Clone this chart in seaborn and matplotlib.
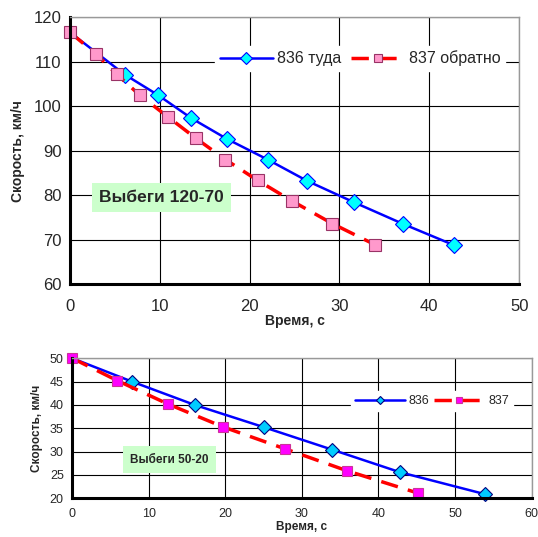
import numpy as np
import pandas as pd
import matplotlib
matplotlib.use("Agg")
import matplotlib.pyplot as plt
import seaborn as sns

# Выбеги 120-70
t836_top = [0, 6.1, 9.8, 13.5, 17.5, 22.0, 26.4, 31.6, 37.1, 42.8]
v836_top = [116.6, 107.1, 102.5, 97.3, 92.6, 88.0, 83.2, 78.4, 73.5, 68.7]
t837_top = [0, 2.85, 5.2, 7.75, 10.9, 14.0, 17.3, 20.9, 24.7, 29.2, 34.0]
v837_top = [116.6, 111.8, 107.2, 102.5, 97.6, 92.8, 88.0, 83.3, 78.7, 73.6, 68.8]

# Выбеги 50-20
t836_bot = [0, 7.8, 16.0, 25.1, 34.0, 42.8, 53.9]
v836_bot = [50, 45.0, 40.0, 35.2, 30.4, 25.6, 20.9]
t837_bot = [0, 5.9, 12.5, 19.7, 27.8, 35.9, 45.2]
v837_bot = [50, 45.2, 40.2, 35.3, 30.6, 25.9, 21.1]

sns.set_style("white")
plt.rcParams["font.family"] = ["Liberation Sans", "DejaVu Sans"]

fig = plt.figure(figsize=(5.38, 5.37), dpi=100)
ax1 = fig.add_axes([0.130, 0.471, 0.835, 0.497])
ax2 = fig.add_axes([0.134, 0.072, 0.854, 0.261])


def style_axes(ax, xlim, ylim, xstep, ystep, fs, xpad):
    ax.set_xlim(*xlim)
    ax.set_ylim(*ylim)
    ax.set_xticks(np.arange(xlim[0], xlim[1] + 0.1, xstep))
    ax.set_yticks(np.arange(ylim[0], ylim[1] + 0.1, ystep))
    ax.grid(True, color="black", linewidth=0.8)
    ax.set_axisbelow(True)
    for s in ["top", "right"]:
        ax.spines[s].set_color("#999999")
        ax.spines[s].set_linewidth(1)
    for s in ["left", "bottom"]:
        ax.spines[s].set_color("black")
        ax.spines[s].set_linewidth(2.2)
    ax.tick_params(axis="y", labelsize=fs, length=0, pad=6)
    ax.tick_params(axis="x", labelsize=fs, length=0, pad=xpad)
    for ln in ax.lines:
        ln.set_clip_on(False)


# top chart (the 836 marker at t=0 sits under the 837 square)
sns.lineplot(x=t836_top, y=v836_top, ax=ax1, color="#0000ff", linewidth=1.8,
             marker="D", markersize=8, markerfacecolor="#00ffff",
             markeredgecolor="#0000ff", markeredgewidth=0.8, label="836 туда",
             markevery=slice(1, None))
sns.lineplot(x=t837_top, y=v837_top, ax=ax1, color="#ff0000", linewidth=2.5,
             marker="s", markersize=8, markerfacecolor="#ff99cc",
             markeredgecolor="#993366", markeredgewidth=0.8, label="837 обратно")
ax1.lines[1].set_dashes([5, 3])
style_axes(ax1, (0, 50), (60, 120), 10, 10, 12, 11)
ax1.set_xlabel("Время, с", fontsize=10, fontweight="bold", labelpad=0)
ax1.set_ylabel("Скорость, км/ч", fontsize=10, fontweight="bold", labelpad=6)
ax1.legend(loc="center", bbox_to_anchor=(0.646, 0.845), ncol=2, fontsize=11.5,
           frameon=True, facecolor="white", edgecolor="white", framealpha=1,
           fancybox=False, handlelength=3.3, columnspacing=0.6,
           handletextpad=0.3, borderpad=0.3, markerscale=0.75)
ax1.text(10.2, 79.4, "Выбеги 120-70", fontsize=12.5, fontweight="bold",
         ha="center", va="center",
         bbox=dict(boxstyle="square,pad=0.4", facecolor="#ccffcc", edgecolor="none"))

# bottom chart
sns.lineplot(x=t836_bot, y=v836_bot, ax=ax2, color="#0000ff", linewidth=1.8,
             marker="D", markersize=7.5, markerfacecolor="#00ccff",
             markeredgecolor="#000080", markeredgewidth=0.8, label="836",
             markevery=slice(1, None))
sns.lineplot(x=t837_bot, y=v837_bot, ax=ax2, color="#ff0000", linewidth=2.5,
             marker="s", markersize=7.5, markerfacecolor="#ff00ff",
             markeredgecolor="#cc3399", markeredgewidth=0.8, label="837")
ax2.lines[1].set_dashes([5, 3])
style_axes(ax2, (0, 60), (20, 50), 10, 5, 9, 7)
ax2.set_xlabel("Время, с", fontsize=8.5, fontweight="bold", labelpad=1)
ax2.set_ylabel("Скорость, км/ч", fontsize=8.5, fontweight="bold", labelpad=5)
ax2.legend(loc="center", bbox_to_anchor=(0.783, 0.695), ncol=2, fontsize=9,
           frameon=True, facecolor="white", edgecolor="white", framealpha=1,
           fancybox=False, handlelength=4, columnspacing=0.4,
           handletextpad=0.3, borderpad=0.3, markerscale=0.6)
ax2.text(12.7, 28.3, "Выбеги 50-20", fontsize=8.5, fontweight="bold",
         ha="center", va="center",
         bbox=dict(boxstyle="square,pad=0.6", facecolor="#ccffcc", edgecolor="none"))

fig.savefig("out.png", dpi=100)
